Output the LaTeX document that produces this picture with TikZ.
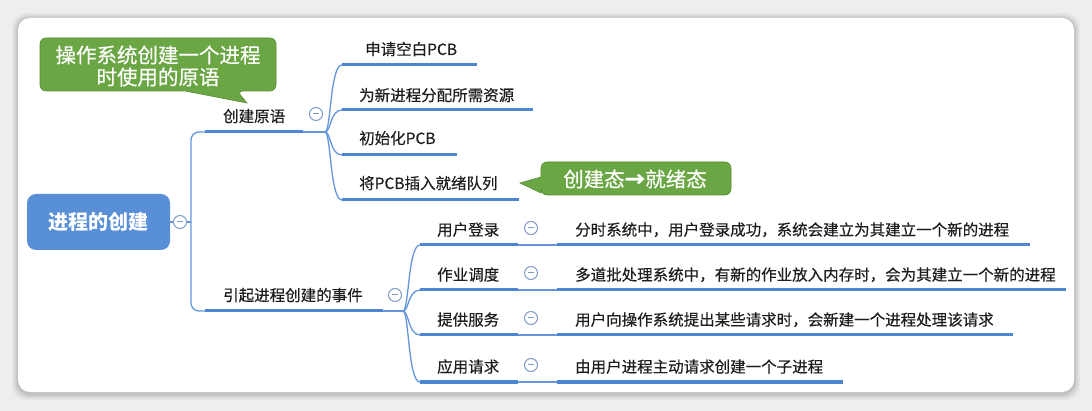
\documentclass[tikz,border=0pt]{standalone}
\usepackage{fontspec}
\setmainfont{Noto Sans CJK SC}
\newfontfamily\lblf{Noto Sans CJK SC}[FakeBold=0.35]
\definecolor{bgc}{RGB}{238,238,238}
\definecolor{ulc}{RGB}{78,134,212}
\definecolor{lnc}{RGB}{100,150,222}
\definecolor{rootc}{RGB}{88,143,214}
\definecolor{grn}{RGB}{106,167,68}
\definecolor{grnd}{RGB}{88,140,52}
\definecolor{txt}{RGB}{30,30,30}
\definecolor{colc}{RGB}{128,155,200}
\begin{document}
\begin{tikzpicture}[x=1pt,y=-1pt,
  line/.style={draw=lnc, line width=1.3pt},
  ul/.style={draw=ulc, line width=3pt},
  lbl/.style={anchor=base west, inner sep=0, font=\lblf\fontsize{15.5}{18}\selectfont, text=txt},
  coll/.style={circle, draw=colc, fill=white, minimum size=13pt, inner sep=0, line width=1pt,
    path picture={\draw[colc, line width=1pt] ([xshift=-3.2pt]path picture bounding box.center) -- ([xshift=3.2pt]path picture bounding box.center);}},
  callout/.style={fill=grn, draw=grnd, line width=0.6pt, rounded corners=6pt},
  ctext/.style={inner sep=0, text=white, font=\lblf\fontsize{20.5}{22}\selectfont, align=center}
]
\useasboundingbox (0,0) rectangle (1092,411);
\fill[bgc] (0,0) rectangle (1092,411);
% card shadow
\foreach \s/\o in {6/0.03,4.5/0.04,3/0.05,1.5/0.07}{
  \fill[black, opacity=\o, rounded corners=14pt] (18-\s,18-\s+1) rectangle (1074+\s,393+\s+1);
}
\fill[white, rounded corners=12pt] (18,18) rectangle (1074,392);

% root
\node[fill=rootc, rounded corners=9pt, minimum width=143pt, minimum height=56pt, inner sep=0,
  text=white, font=\fontsize{20}{24}\selectfont\bfseries] (root) at (98.5,222) {进程的创建};
\node[coll] (c0) at (180,222) {};
\coordinate (j0) at (191,222);
\draw[line] (root.east) -- (c0.west);
\draw[line] (c0.east) -- (j0);

% branch A
\coordinate (as) at (205,132);
\coordinate (ae) at (303,132);
\coordinate (ja) at (325,132);
\draw[line, rounded corners=8pt] (j0) |- (as);
\draw[ul] (as) -- (ae);
\draw[line] (ae) -- (ja);
\node[lbl] (a) at (223,122) {创建原语};
\node[coll] (ca) at (316,114) {};

\foreach \n/\y/\e in {1/65/477, 2/110/533, 3/155/457, 4/200/519}{
  \coordinate (a\n s) at (342,\y);
  \coordinate (a\n e) at (\e,\y);
  \draw[line] (ja) .. controls (331,132) and (330,\y) .. (a\n s);
  \draw[ul] (a\n s) -- (a\n e);
}
\node[lbl] (a1) at (365,55) {申请空白PCB};
\node[lbl] (a2) at (359,101) {为新进程分配所需资源};
\node[lbl] (a3) at (359,144) {初始化PCB};
\node[lbl] (a4) at (359,189) {将PCB插入就绪队列};

% branch B
\coordinate (bs) at (205,311);
\coordinate (be) at (383,311);
\coordinate (jb) at (403,311);
\draw[line, rounded corners=8pt] (j0) |- (bs);
\draw[ul] (bs) -- (be);
\draw[line] (be) -- (jb);
\node[lbl] (b) at (223,301) {引起进程创建的事件};
\node[coll] (cb) at (395,295) {};

\foreach \n/\y/\e/\t/\d in {
  1/245/1030/用户登录/分时系统中，用户登录成功，系统会建立为其建立一个新的进程,
  2/290/1066/作业调度/多道批处理系统中，有新的作业放入内存时，会为其建立一个新的进程,
  3/335/1013/提供服务/用户向操作系统提出某些请求时，会新建一个进程处理该请求,
  4/382/843/应用请求/由用户进程主动请求创建一个子进程}{
  \coordinate (b\n s) at (420,\y);
  \coordinate (b\n e) at (518,\y);
  \coordinate (d\n s) at (557,\y);
  \coordinate (d\n e) at (\e,\y);
  \draw[line] (jb) .. controls (409,311) and (408,\y) .. (b\n s);
  \draw[ul] (b\n s) -- (b\n e);
  \draw[line] (b\n e) -- (d\n s);
  \draw[ul] (d\n s) -- (d\n e);
  \node[lbl] (b\n) at (437,\y-9.5) {\t};
  \node[coll] (cb\n) at (531,\y-17) {};
  \node[lbl] (d\n) at (575,\y-9.5) {\d};
}

% callout 1
\draw[callout] (40,38) -- (276,38) -- (276,91) -- (237,91) [sharp corners] -- (247,103) -- (185,91) [rounded corners=6pt] -- (40,91) -- cycle;
\node[ctext] (k1) at (158,66) {操作系统创建一个进程\\时使用的原语};

% callout 2
\draw[callout] (541,162) -- (731,162) -- (731,195) -- (541,195) [sharp corners] -- (541,193) -- (520,183) -- (541,177) [rounded corners=6pt] -- cycle;
\node[ctext] (k2) at (635,179) {创建态{\bfseries →}就绪态};
\end{tikzpicture}
\end{document}
